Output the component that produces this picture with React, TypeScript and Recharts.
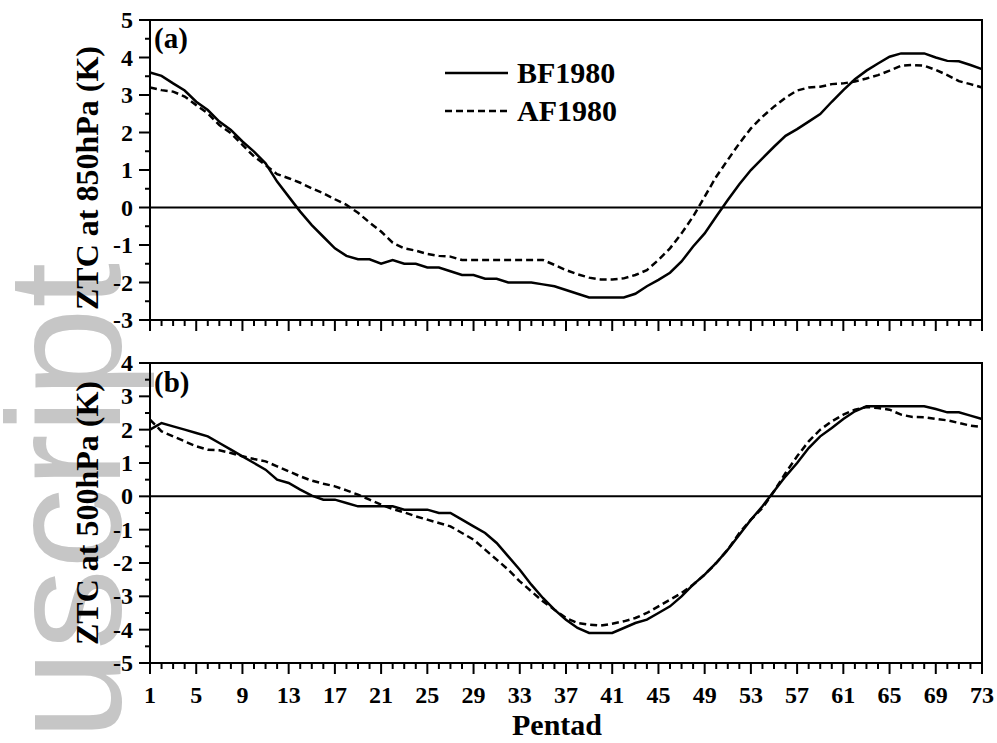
import React from "react";
import { LineChart, Line, XAxis, YAxis, ReferenceLine, ReferenceArea, Legend } from "recharts";

const pentads = Array.from({ length: 73 }, (_, i) => i + 1);
const xMajorTicks = [1, 5, 9, 13, 17, 21, 25, 29, 33, 37, 41, 45, 49, 53, 57, 61, 65, 69, 73];
const yTicks850 = [-3, -2.5, -2, -1.5, -1, -0.5, 0, 0.5, 1, 1.5, 2, 2.5, 3, 3.5, 4, 4.5, 5];
const yTicks500 = [-5, -4.5, -4, -3.5, -3, -2.5, -2, -1.5, -1, -0.5, 0, 0.5, 1, 1.5, 2, 2.5, 3, 3.5, 4];

// (a) 850hPa
const bf850 = [
  3.6, 3.51, 3.31, 3.12, 2.82, 2.6, 2.29, 2.07, 1.76, 1.49,
  1.18, 0.69, 0.29, -0.11, -0.47, -0.78, -1.09, -1.29, -1.38, -1.38,
  -1.5, -1.4, -1.5, -1.5, -1.6, -1.6, -1.7, -1.8, -1.8, -1.9,
  -1.9, -2.0, -2.0, -2.0, -2.05, -2.1, -2.2, -2.3, -2.4, -2.4,
  -2.4, -2.4, -2.3, -2.1, -1.93, -1.74, -1.44, -1.04, -0.69, -0.24,
  0.2, 0.62, 1.0, 1.31, 1.62, 1.91, 2.09, 2.29, 2.49, 2.82,
  3.13, 3.42, 3.65, 3.84, 4.02, 4.11, 4.11, 4.11, 4.0, 3.91,
  3.9, 3.8, 3.69,
];
const af850 = [
  3.2, 3.13, 3.09, 2.96, 2.73, 2.51, 2.2, 1.98, 1.67, 1.36,
  1.13, 0.89, 0.78, 0.66, 0.51, 0.38, 0.22, 0.07, -0.14, -0.4,
  -0.64, -0.94, -1.09, -1.15, -1.24, -1.29, -1.31, -1.4, -1.4, -1.4,
  -1.4, -1.4, -1.4, -1.4, -1.4, -1.53, -1.67, -1.78, -1.87, -1.92,
  -1.92, -1.89, -1.8, -1.67, -1.4, -1.09, -0.69, -0.24, 0.29, 0.82,
  1.27, 1.71, 2.11, 2.42, 2.69, 2.93, 3.12, 3.2, 3.22, 3.29,
  3.31, 3.36, 3.44, 3.53, 3.65, 3.78, 3.8, 3.78, 3.67, 3.53,
  3.37, 3.29, 3.2,
];

// (b) 500hPa
const bf500 = [
  2.0, 2.2, 2.1, 2.0, 1.9, 1.8, 1.6, 1.4, 1.2, 1.0,
  0.8, 0.5, 0.4, 0.2, 0.02, -0.1, -0.1, -0.2, -0.3, -0.3,
  -0.3, -0.3, -0.4, -0.4, -0.4, -0.5, -0.5, -0.7, -0.9, -1.1,
  -1.4, -1.8, -2.2, -2.65, -3.05, -3.4, -3.7, -3.95, -4.1, -4.1,
  -4.1, -3.95, -3.8, -3.7, -3.5, -3.3, -3.0, -2.65, -2.35, -2.0,
  -1.6, -1.15, -0.7, -0.3, 0.15, 0.6, 1.0, 1.45, 1.8, 2.05,
  2.32, 2.55, 2.7, 2.7, 2.7, 2.7, 2.7, 2.7, 2.62, 2.52,
  2.52, 2.42, 2.32,
];
const af500 = [
  2.3, 1.95, 1.8, 1.65, 1.5, 1.4, 1.38, 1.3, 1.2, 1.12,
  1.05, 0.9, 0.75, 0.6, 0.47, 0.38, 0.3, 0.18, 0.05, -0.1,
  -0.25, -0.38, -0.48, -0.6, -0.7, -0.8, -0.9, -1.1, -1.3, -1.6,
  -1.9, -2.2, -2.55, -2.85, -3.15, -3.4, -3.65, -3.8, -3.85, -3.88,
  -3.82, -3.75, -3.65, -3.5, -3.3, -3.1, -2.9, -2.65, -2.35, -2.0,
  -1.6, -1.1, -0.7, -0.35, 0.15, 0.7, 1.2, 1.65, 2.0, 2.25,
  2.45, 2.6, 2.68, 2.65, 2.6, 2.45, 2.38, 2.37, 2.32, 2.28,
  2.2, 2.12, 2.08,
];

const data850 = pentads.map((p, i) => ({ p, bf: bf850[i], af: af850[i] }));
const data500 = pentads.map((p, i) => ({ p, bf: bf500[i], af: af500[i] }));

const SERIF = '"Liberation Serif", "Times New Roman", serif';
const DASH = "7 4";

const XTick = (props: any) => {
  const { x, y, payload, showLabel } = props;
  const v = payload.value;
  const major = xMajorTicks.includes(v);
  return (
    <g>
      <line x1={x} x2={x} y1={y} y2={y + (major ? 11 : 6)} stroke="#000" strokeWidth={2} />
      {showLabel && major && (
        <text x={x} y={y + 40} textAnchor="middle" fontFamily={SERIF} fontWeight="bold" fontSize={24} fill="#000">
          {v}
        </text>
      )}
    </g>
  );
};

const YTick = (props: any) => {
  const { x, y, payload } = props;
  const v = payload.value;
  const major = Number.isInteger(v);
  return (
    <g>
      <line x1={x - (major ? 11 : 5)} x2={x} y1={y} y2={y} stroke="#000" strokeWidth={2} />
      {major && (
        <text x={x - 17} y={y + 8} textAnchor="end" fontFamily={SERIF} fontWeight="bold" fontSize={24} fill="#000">
          {v}
        </text>
      )}
    </g>
  );
};

const yTitle = (text: string, shift: number) => (props: any) => {
  const vb = props.viewBox;
  const cx = vb.x + 8;
  const cy = vb.y + vb.height / 2 + shift;
  return (
    <text
      x={cx}
      y={cy}
      transform={`rotate(-90, ${cx}, ${cy})`}
      textAnchor="middle"
      fontFamily={SERIF}
      fontWeight="bold"
      fontSize={32}
      fill="#000"
    >
      {text}
    </text>
  );
};

const panelTag = (text: string, dy: number) => (props: any) => {
  const vb = props.viewBox;
  return (
    <text x={vb.x + 4} y={vb.y + dy} fontFamily={SERIF} fontWeight="bold" fontSize={29} fill="#000">
      {text}
    </text>
  );
};

const LegendBox = () => (
  <div style={{ fontFamily: SERIF, fontWeight: "bold", fontSize: 30, lineHeight: "38px", color: "#000" }}>
    {[
      { name: "BF1980", dash: undefined },
      { name: "AF1980", dash: DASH },
    ].map((s) => (
      <div key={s.name} style={{ display: "flex", alignItems: "center", height: 38 }}>
        <svg width={64} height={10} style={{ marginRight: 8 }}>
          <line x1={0} x2={63} y1={5} y2={5} stroke="#000" strokeWidth={2.5} strokeDasharray={s.dash} />
        </svg>
        <span>{s.name}</span>
      </div>
    ))}
  </div>
);

export default function App() {
  return (
    <div style={{ position: "absolute", left: 0, top: 0, width: 997, height: 743, background: "#fff", overflow: "hidden" }}>
      {/* faint "manuscript" watermark, cut off at the page edge */}
      <svg width={997} height={743} style={{ position: "absolute", left: 0, top: 0 }}>
        <text
          x={120}
          y={740}
          transform="rotate(-90, 120, 740)"
          fontFamily='"Liberation Sans", Arial, sans-serif'
          fontSize={162}
          fill="#c6c6c6"
        >
          uscript
        </text>
      </svg>

      <div style={{ position: "absolute", left: 0, top: 0 }}>
        <LineChart width={997} height={340} data={data850} margin={{ top: 20, right: 15, bottom: 0, left: 90 }}>
          <XAxis
            dataKey="p"
            type="number"
            domain={[1, 73]}
            ticks={pentads}
            interval={0}
            height={20}
            tickSize={0}
            tickMargin={0}
            tickLine={false}
            axisLine={{ stroke: "#000", strokeWidth: 2 }}
            tick={<XTick showLabel={false} />}
          />
          <YAxis
            type="number"
            domain={[-3, 5]}
            ticks={yTicks850}
            interval={0}
            width={60}
            tickSize={0}
            tickMargin={0}
            tickLine={false}
            axisLine={{ stroke: "#000", strokeWidth: 2 }}
            tick={<YTick />}
            label={{ content: yTitle("ZTC at 850hPa (K)", 8) }}
          />
          <ReferenceArea
            x1={1}
            x2={73}
            y1={-3}
            y2={5}
            fill="none"
            stroke="#000"
            strokeWidth={2}
            ifOverflow="visible"
            label={{ content: panelTag("(a)", 28) }}
          />
          <ReferenceLine y={0} stroke="#000" strokeWidth={2} />
          <Legend
            layout="horizontal"
            verticalAlign="middle"
            align="center"
            content={() => <LegendBox />}
            wrapperStyle={{ position: "absolute", left: 445, top: 54, width: "auto", height: "auto" }}
          />
          <Line dataKey="bf" name="BF1980" type="linear" stroke="#000" strokeWidth={2.5} dot={false} isAnimationActive={false} />
          <Line dataKey="af" name="AF1980" type="linear" stroke="#000" strokeWidth={2.5} strokeDasharray={DASH} dot={false} isAnimationActive={false} />
        </LineChart>
      </div>

      <div style={{ position: "absolute", left: 0, top: 340 }}>
        <LineChart width={997} height={403} data={data500} margin={{ top: 23, right: 15, bottom: 0, left: 90 }}>
          <XAxis
            dataKey="p"
            type="number"
            domain={[1, 73]}
            ticks={pentads}
            interval={0}
            height={80}
            tickSize={0}
            tickMargin={0}
            tickLine={false}
            axisLine={{ stroke: "#000", strokeWidth: 2 }}
            tick={<XTick showLabel />}
            label={{
              content: (props: any) => {
                const vb = props.viewBox;
                return (
                  <text x={vb.x + 407} y={vb.y + 72} textAnchor="middle" fontFamily={SERIF} fontWeight="bold" fontSize={30} fill="#000">
                    Pentad
                  </text>
                );
              },
            }}
          />
          <YAxis
            type="number"
            domain={[-5, 4]}
            ticks={yTicks500}
            interval={0}
            width={60}
            tickSize={0}
            tickMargin={0}
            tickLine={false}
            axisLine={{ stroke: "#000", strokeWidth: 2 }}
            tick={<YTick />}
            label={{ content: yTitle("ZTC at 500hPa (K)", 0) }}
          />
          <ReferenceArea
            x1={1}
            x2={73}
            y1={-5}
            y2={4}
            fill="none"
            stroke="#000"
            strokeWidth={2}
            ifOverflow="visible"
            label={{ content: panelTag("(b)", 29) }}
          />
          <ReferenceLine y={0} stroke="#000" strokeWidth={2} />
          <Line dataKey="bf" name="BF1980" type="linear" stroke="#000" strokeWidth={2.5} dot={false} isAnimationActive={false} />
          <Line dataKey="af" name="AF1980" type="linear" stroke="#000" strokeWidth={2.5} strokeDasharray={DASH} dot={false} isAnimationActive={false} />
        </LineChart>
      </div>
    </div>
  );
}
